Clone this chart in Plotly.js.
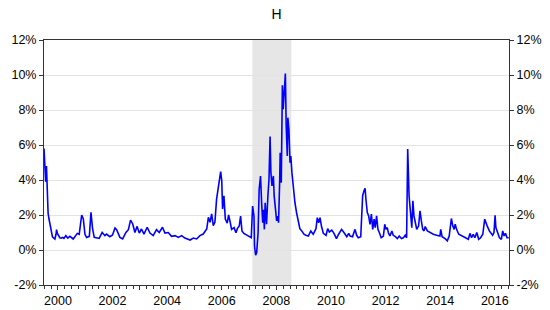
<!DOCTYPE html>
<html>
<head>
<meta charset="utf-8">
<script src="https://cdn.plot.ly/plotly-3.0.1.min.js"></script>
<style>html,body{margin:0;padding:0;background:#fff;}#chart{width:550px;height:310px;}</style>
</head>
<body>
<div id="chart"></div>
<script>
// Decimal years (observation dates) and H values in percent
var years = [
1999.49,1999.52,1999.55,1999.58,1999.61,1999.64,1999.67,1999.71,1999.75,1999.80,1999.85,1999.89,1999.93,1999.95,1999.98,
2000.02,2000.07,2000.12,2000.17,2000.22,2000.29,2000.36,2000.44,2000.56,2000.63,2000.71,2000.78,2000.87,2000.93,2000.99,
2001.05,2001.15,2001.21,2001.27,2001.33,2001.42,2001.51,2001.62,2001.72,2001.78,2001.90,2002.00,2002.09,2002.15,2002.27,
2002.37,2002.49,2002.58,2002.66,2002.74,2002.82,2002.90,2002.98,2003.06,2003.15,2003.27,2003.37,2003.49,2003.61,2003.71,
2003.83,2003.92,2004.04,2004.16,2004.29,2004.41,2004.53,2004.65,2004.84,2004.96,2005.08,2005.20,2005.32,2005.45,2005.51,
2005.57,2005.63,2005.69,2005.75,2005.81,2005.87,2005.91,2005.96,2006.00,2006.03,2006.08,2006.13,2006.20,2006.25,2006.30,
2006.36,2006.45,2006.52,2006.57,2006.64,2006.69,2006.74,2006.81,2006.91,2007.01,2007.08,2007.13,2007.18,2007.20,2007.24,
2007.28,2007.33,2007.37,2007.42,2007.46,2007.50,2007.53,2007.56,2007.59,2007.64,2007.69,2007.73,2007.77,2007.80,2007.84,
2007.89,2007.92,2007.97,2008.01,2008.05,2008.08,2008.12,2008.14,2008.18,2008.22,2008.25,2008.29,2008.33,2008.36,2008.40,
2008.42,2008.46,2008.50,2008.53,2008.57,2008.62,2008.68,2008.74,2008.80,2008.86,2008.93,2009.01,2009.08,2009.17,2009.26,
2009.35,2009.45,2009.50,2009.55,2009.60,2009.65,2009.72,2009.82,2009.88,2009.94,2010.03,2010.11,2010.20,2010.28,2010.39,
2010.48,2010.58,2010.65,2010.70,2010.79,2010.88,2010.94,2011.00,2011.09,2011.12,2011.16,2011.21,2011.25,2011.28,2011.33,
2011.38,2011.43,2011.48,2011.53,2011.58,2011.62,2011.67,2011.72,2011.77,2011.84,2011.92,2011.97,2012.01,2012.06,2012.11,
2012.16,2012.23,2012.28,2012.36,2012.43,2012.50,2012.58,2012.65,2012.72,2012.77,2012.81,2012.86,2012.91,2012.96,2013.00,
2013.04,2013.09,2013.14,2013.21,2013.26,2013.31,2013.36,2013.41,2013.45,2013.53,2013.63,2013.75,2013.87,2013.99,2014.02,
2014.07,2014.18,2014.26,2014.33,2014.41,2014.46,2014.51,2014.55,2014.60,2014.68,2014.75,2014.85,2014.95,2015.03,2015.09,
2015.15,2015.21,2015.27,2015.34,2015.41,2015.48,2015.56,2015.63,2015.68,2015.72,2015.80,2015.85,2015.92,2015.97,2016.01,
2016.04,2016.09,2016.17,2016.24,2016.29,2016.34,2016.39,2016.45,2016.51
];
var hValues = [
5.8,4.4,3.9,4.8,3.2,2.1,1.8,1.4,1.0,0.75,0.68,0.63,0.9,1.16,0.95,
0.8,0.7,0.68,0.72,0.66,0.82,0.68,0.78,0.63,0.75,0.95,0.9,2.0,1.77,0.9,
0.72,0.78,2.15,1.2,0.72,0.68,0.66,1.0,0.82,0.91,0.76,0.86,1.26,1.16,0.72,
0.63,1.0,1.16,1.71,1.49,1.0,1.35,0.97,1.2,0.91,1.3,0.97,0.82,1.16,1.0,
1.3,0.97,1.0,0.78,0.82,0.72,0.82,0.68,0.57,0.68,0.63,0.82,0.91,1.2,1.87,
1.58,2.06,1.39,1.6,2.91,3.58,3.87,4.48,3.96,2.34,3.1,1.77,1.54,2.0,1.66,
1.18,1.28,0.99,1.22,1.37,1.94,1.09,0.95,0.84,0.76,0.7,2.51,1.94,0.23,-0.3,
-0.15,0.99,3.47,4.23,2.7,1.56,2.3,1.18,2.7,1.47,3.09,4.04,6.48,4.42,3.66,
4.23,3.09,2.13,1.66,1.94,1.56,3.85,5.56,3.85,9.41,8.04,9.56,10.08,7.09,5.37,
7.56,6.9,4.99,5.37,4.42,3.47,2.7,2.13,1.75,1.22,1.09,0.9,0.84,0.8,1.09,
0.9,1.22,1.85,1.56,1.85,1.37,0.95,0.84,1.22,1.03,1.14,0.95,0.65,0.9,1.18,
0.99,0.76,0.95,0.8,0.76,1.18,0.84,0.7,0.76,1.76,3.1,3.38,3.52,2.9,2.14,
1.95,1.47,2.05,1.18,1.76,1.28,1.95,1.18,1.0,0.7,0.8,1.47,1.18,1.28,0.95,
0.8,1.09,0.84,0.76,0.65,0.8,0.65,0.7,0.84,0.7,5.77,3.1,2.14,1.28,2.81,
1.95,1.57,1.18,1.38,2.24,1.66,1.18,1.09,1.34,1.09,1.0,0.9,0.84,0.8,1.18,
0.76,0.65,0.52,0.8,1.8,1.38,1.18,1.47,1.18,0.9,0.84,0.76,0.7,0.61,0.95,
0.7,0.9,0.7,1.0,0.61,0.7,0.9,1.76,1.47,1.38,1.09,1.0,0.84,1.0,1.99,
1.28,1.0,0.7,0.61,1.09,0.8,0.95,0.7,0.7
];
var tickYears = [2000,2001,2002,2003,2004,2005,2006,2007,2008,2009,2010,2011,2012,2013,2014,2015,2016];
var tickLabels = tickYears.map(function(y){ return (y % 2 === 0) ? String(y) : ''; });
var yTicks = [-2,0,2,4,6,8,10,12];
var yLabels = yTicks.map(function(v){ return v + '%'; });
var shadeStart = 2007.12, shadeEnd = 2008.55;
var titleText = 'H';

var font = {family: 'Liberation Sans, Arial, sans-serif', size: 12.5, color: '#000'};
var axisColor = '#333';

var traces = [
  {x: years, y: hValues, type: 'scatter', mode: 'lines',
   line: {color: '#0000ff', width: 1.6}, hoverinfo: 'skip', showlegend: false},
  {x: [years[0]], y: [hValues[0]], type: 'scatter', mode: 'markers', yaxis: 'y2',
   marker: {opacity: 0}, hoverinfo: 'skip', showlegend: false}
];

var layout = {
  width: 550, height: 310,
  margin: {l: 44, r: 41, t: 40, b: 25, pad: 0},
  paper_bgcolor: '#fff', plot_bgcolor: '#fff',
  font: font,
  title: {text: titleText, x: 0.503, xanchor: 'center', y: 0.955, yanchor: 'middle',
          font: {family: font.family, size: 14, color: '#000'}},
  xaxis: {
    range: [1999.49, 2016.52], tickmode: 'array', tickvals: tickYears, ticktext: tickLabels,
    ticks: 'outside', ticklen: 4, tickcolor: axisColor, tickwidth: 1,
    showline: true, linecolor: axisColor, linewidth: 1, mirror: true,
    showgrid: false, zeroline: false, tickfont: font,
    minor: {dtick: 0.25, tick0: 0, ticks: 'outside', ticklen: 3, tickcolor: axisColor, showgrid: false}
  },
  yaxis: {
    range: [-2, 12], tickmode: 'array', tickvals: yTicks, ticktext: yLabels,
    ticks: 'outside', ticklen: 4, tickcolor: axisColor,
    showline: true, linecolor: axisColor, linewidth: 1,
    showgrid: true, gridcolor: '#e3e3e3', gridwidth: 1, zeroline: false, tickfont: font
  },
  yaxis2: {
    range: [-2, 12], overlaying: 'y', side: 'right', tickmode: 'array', tickvals: yTicks, ticktext: yLabels,
    ticks: 'outside', ticklen: 4, tickcolor: axisColor,
    showline: true, linecolor: axisColor, linewidth: 1,
    showgrid: false, zeroline: false, tickfont: font
  },
  shapes: [{type: 'rect', xref: 'x', yref: 'paper', x0: shadeStart, x1: shadeEnd, y0: 0, y1: 1,
            fillcolor: '#e6e6e6', line: {width: 0}, layer: 'below'}]
};

Plotly.newPlot('chart', traces, layout, {displayModeBar: false, staticPlot: true});
</script>
</body>
</html>
